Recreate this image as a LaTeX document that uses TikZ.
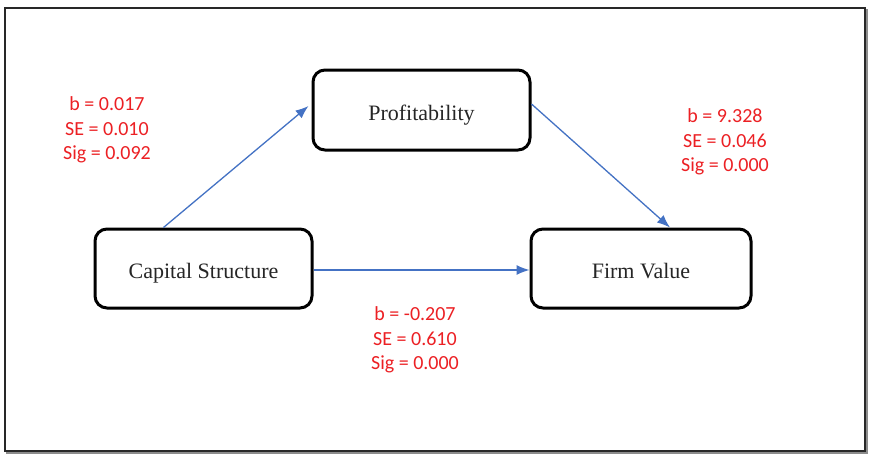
\documentclass[tikz,border=0pt]{standalone}
\usepackage{fontspec}
\setmainfont{Liberation Serif}
\newfontfamily\lblfont{Carlito}
\usetikzlibrary{arrows.meta}
\definecolor{arrblue}{RGB}{68,114,196}
\definecolor{lblred}{RGB}{236,32,36}
\definecolor{framegray}{RGB}{40,40,40}
\tikzset{
  varbox/.style={draw=black, line width=3pt, rounded corners=12pt, fill=white,
    font=\fontsize{22}{26}\selectfont, text=black!85, text height=20pt, text depth=0pt},
  path arrow/.style={draw=arrblue, line width=1.3pt, -{Latex[length=13pt,width=10pt]}},
  coef/.style={align=center, text=lblred, font=\lblfont\fontsize{20}{24.5}\selectfont}
}
\begin{document}
\begin{tikzpicture}[x=1pt,y=-1pt]
\useasboundingbox (0,0) rectangle (871,458);
\fill[white] (0,0) rectangle (871,458);
\draw[black!45, line width=1.5pt] (7,10) rectangle (867,453);
\draw[framegray, line width=1.5pt, fill=white] (5,8) rectangle (865,451);

\node[varbox, minimum width=217pt, minimum height=79pt] (cs) at (203.5,268.5) {Capital Structure};
\node[varbox, minimum width=217pt, minimum height=80pt] (prof) at (421.5,110) {Profitability};
\node[varbox, minimum width=220pt, minimum height=79pt] (fv) at (641,268.5) {Firm Value};

\draw[path arrow] ([xshift=70pt]cs.north west) -- ([yshift=4pt,xshift=-3pt]prof.west);
\draw[path arrow] ([yshift=6pt]prof.east) -- ([xshift=29pt]fv.north);
\draw[path arrow] ([yshift=-1.5pt]cs.east) -- ([yshift=-1.5pt]fv.west);

\node[coef] (l1) at (107,130) {b = 0.017\\SE = 0.010\\Sig = 0.092};
\node[coef] (l2) at (725,142) {b = 9.328\\SE = 0.046\\Sig = 0.000};
\node[coef] (l3) at (415,340) {b = -0.207\\SE = 0.610\\Sig = 0.000};
\end{tikzpicture}
\end{document}
